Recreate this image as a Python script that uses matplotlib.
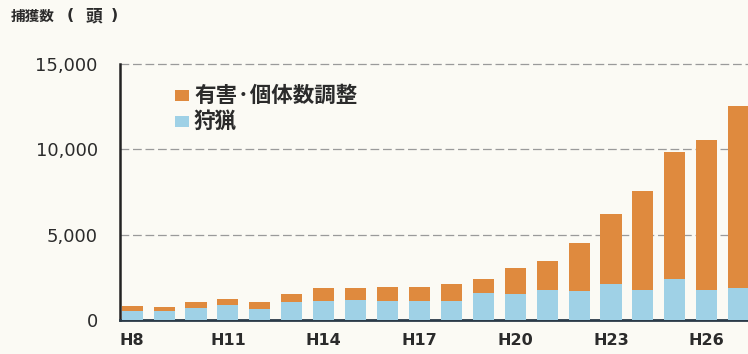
import matplotlib
matplotlib.use("Agg")
import matplotlib.pyplot as plt
from matplotlib.patches import Rectangle
import numpy as np

plt.rcParams['font.family'] = ['Noto Sans CJK JP', 'DejaVu Sans']
plt.rcParams['hatch.color'] = '#eaf6fb'
plt.rcParams['hatch.linewidth'] = 1.2

# Fiscal years H8..H27
years = [f"H{n}" for n in range(8, 28)]
# Total captures per year (heads)
total = [820, 780, 1035, 1245, 1035, 1500, 1890, 1890, 1910, 1930,
         2100, 2380, 3060, 3450, 4540, 6240, 7560, 9840, 10570, 12510]
# Hunting (狩猟) portion
hunting = [530, 530, 720, 860, 660, 1070, 1130, 1170, 1130, 1130,
           1130, 1560, 1500, 1750, 1700, 2090, 1750, 2400, 1750, 1850]
# Nuisance control / population management portion
control = [t - h for t, h in zip(total, hunting)]

tick_labels = ["H8", "H11", "H14", "H17", "H20", "H23", "H26"]
y_ticks = [0, 5000, 10000, 15000]
y_tick_labels = ["0", "5,000", "10,000", "15,000"]

bg = "#fbfaf4"
orange = "#df8a3e"
blue = "#9fd1e6"
text_col = "#2b2b2b"

fig = plt.figure(figsize=(7.48, 3.54), dpi=100, facecolor=bg)
ax = fig.add_axes([120/748, 34/354, 628/748, 256/354], facecolor=bg)

x = np.arange(len(years))
ax.bar(x, hunting, width=0.66, color=blue, zorder=3)
ax.bar(x, control, bottom=hunting, width=0.66, color=orange, zorder=3)

ax.set_xlim(-0.38, 19.29)
ax.set_ylim(0, 15000)

# dashed horizontal guides
for v in [5000, 10000, 15000]:
    ax.axhline(v, color="#9a9a9a", lw=0.9, ls=(0, (7, 3)), zorder=1,
               clip_on=False)

ax.set_yticks(y_ticks)
ax.set_yticklabels(y_tick_labels, family="DejaVu Sans", fontsize=13,
                   color=text_col)
pos = [years.index(t) for t in tick_labels]
ax.set_xticks(pos)
ax.set_xticklabels(tick_labels, family="DejaVu Sans", fontsize=11.5,
                   color=text_col, fontweight="bold")
ax.tick_params(axis="both", length=0)
ax.tick_params(axis="y", pad=16)
ax.tick_params(axis="x", pad=9.5)

for s in ["top", "right"]:
    ax.spines[s].set_visible(False)
ax.spines["left"].set_linewidth(1.8)
ax.spines["left"].set_color("#222222")
ax.spines["bottom"].set_linewidth(2.0)
ax.spines["bottom"].set_color("#2a3a48")

# axis title: 捕獲数 （頭）
title_y = 1 - 16/354
fig.text(11/748, title_y, "捕獲数", fontsize=10.5, fontweight="bold",
         color=text_col, ha="left", va="center")
fig.text(70/748, title_y, "(", family="DejaVu Sans", fontsize=11.5,
         fontweight="bold", color=text_col, ha="center", va="center")
fig.text(94/748, title_y, "頭", fontsize=12, fontweight="bold",
         color=text_col, ha="center", va="center")
fig.text(114/748, title_y, ")", family="DejaVu Sans", fontsize=11.5,
         fontweight="bold", color=text_col, ha="center", va="center")

# legend
legend_items = [("有害·個体数調整", orange, 95, None), ("狩猟", blue, 121, "////")]
for label, col, yc, hatch in legend_items:
    fig.patches.append(Rectangle((175/748, 1 - (yc + 6)/354), 14/748, 11/354,
                                 transform=fig.transFigure, facecolor=col,
                                 edgecolor="none", hatch=hatch, figure=fig))
    fig.text(194/748, 1 - yc/354, label, fontsize=15.5, fontweight="bold",
             color=text_col, ha="left", va="center")

fig.savefig("out.png", dpi=100, facecolor=bg)
